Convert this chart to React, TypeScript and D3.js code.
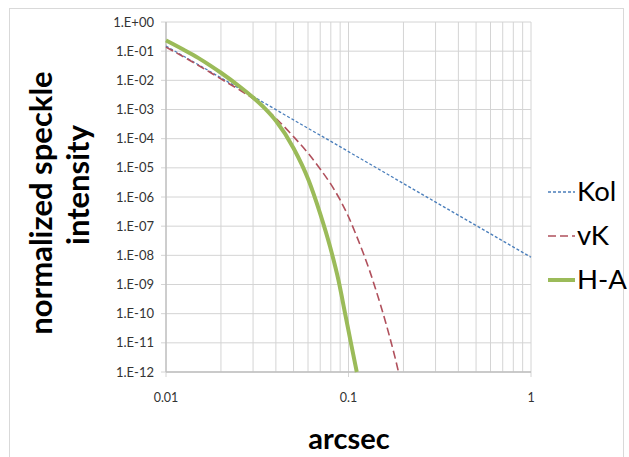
import React from 'react';
import * as d3 from 'd3';

// ---- data ----
const xTickValues = [0.01, 0.1, 1];
const xTickLabels = ['0.01', '0.1', '1'];
const yTickValues = [1, 1e-1, 1e-2, 1e-3, 1e-4, 1e-5, 1e-6, 1e-7, 1e-8, 1e-9, 1e-10, 1e-11, 1e-12];
const yTickLabels = ['1.E+00', '1.E-01', '1.E-02', '1.E-03', '1.E-04', '1.E-05', '1.E-06', '1.E-07', '1.E-08', '1.E-09', '1.E-10', '1.E-11', '1.E-12'];
const seriesNames = ['Kol', 'vK', 'H-A'];

const kolX = [0.01, 0.02, 0.03, 0.05, 0.1, 0.2, 0.5, 1];
const kolY = [1.5e-1, 1.22e-2, 2.8e-3, 4.4e-4, 3.6e-5, 2.9e-6, 1.06e-7, 8.6e-9];

const vkX = [0.01, 0.015, 0.02, 0.025, 0.03, 0.035, 0.04, 0.05, 0.06, 0.07, 0.08, 0.09, 0.1, 0.11, 0.12, 0.13, 0.14, 0.15, 0.16, 0.17, 0.18, 0.188];
const vkY = [1.38e-1, 3.3e-2, 1.12e-2, 4.9e-3, 2.35e-3, 1.1e-3, 5.0e-4, 1.17e-4, 3.2e-5, 9.1e-6, 2.75e-6, 7.9e-7, 2.1e-7, 5.1e-8, 1.27e-8, 3.2e-9, 7.8e-10, 1.95e-10, 4.9e-11, 1.23e-11, 3.1e-12, 1.0e-12];

const haX = [0.01, 0.0125, 0.015, 0.0175, 0.02, 0.025, 0.03, 0.035, 0.04, 0.05, 0.0603, 0.0698, 0.0792, 0.088, 0.0957, 0.104, 0.111];
const haY = [2.34e-1, 1.12e-1, 5.9e-2, 3.2e-2, 1.82e-2, 6.5e-3, 2.57e-3, 1.05e-3, 4.1e-4, 4.7e-5, 3.9e-6, 2.8e-7, 2.0e-8, 1.45e-9, 1.05e-10, 7.6e-12, 1.0e-12];

const W = 629;
const H = 457;

export default function App() {
  const x = d3.scaleLog().domain([0.01, 1]).range([166, 531]);
  const y = d3.scaleLog().domain([1e-12, 1]).range([372, 22]);

  const minorX: number[] = [];
  [0.01, 0.1].forEach((d) => {
    for (let k = 2; k <= 9; k++) minorX.push(d * k);
  });

  const line = d3
    .line<[number, number]>()
    .x((d) => x(d[0]))
    .y((d) => y(d[1]))
    .curve(d3.curveMonotoneX);

  const zip = (a: number[], b: number[]) => a.map((v, i) => [v, b[i]] as [number, number]);

  const series = [
    { name: seriesNames[0], pts: zip(kolX, kolY), color: '#4a7ebb', width: 1.3, dash: '3,2' },
    { name: seriesNames[1], pts: zip(vkX, vkY), color: '#b0505c', width: 1.6, dash: '8,4' },
    { name: seriesNames[2], pts: zip(haX, haY), color: '#9bbb59', width: 4, dash: null as string | null },
  ];

  const grid = '#d4d4d4';
  const legendBase = [201, 245, 289];

  return (
    <svg
      width={W}
      height={H}
      style={{ position: 'absolute', left: 0, top: 0, background: '#fff' }}
      fontFamily="Lato, 'Open Sans', sans-serif"
    >
      <rect x={9.5} y={8.5} width={614} height={470} fill="#fff" stroke="#d9d9d9" />

      {/* minor vertical gridlines */}
      {minorX.map((v, i) => (
        <line key={'mx' + i} x1={x(v)} x2={x(v)} y1={y(1)} y2={y(1e-12)} stroke={grid} strokeWidth={1} />
      ))}
      {/* major vertical gridlines */}
      {xTickValues.map((v, i) => (
        <line key={'vx' + i} x1={x(v)} x2={x(v)} y1={y(1)} y2={y(1e-12) + 5} stroke={grid} strokeWidth={1} />
      ))}
      {/* horizontal gridlines */}
      {yTickValues.map((v, i) => (
        <line key={'hy' + i} x1={x(0.01) - 5} x2={x(1)} y1={y(v)} y2={y(v)} stroke={grid} strokeWidth={1} />
      ))}
      {/* axes */}
      <line x1={x(0.01)} x2={x(0.01)} y1={y(1)} y2={y(1e-12)} stroke="#bfbfbf" strokeWidth={1.3} />
      <line x1={x(0.01)} x2={x(1)} y1={y(1e-12)} y2={y(1e-12)} stroke="#bfbfbf" strokeWidth={1.5} />

      {/* tick labels */}
      {yTickValues.map((v, i) => (
        <text key={'yl' + i} x={154} y={y(v) + 4.5} textAnchor="end" fontSize={13} fill="#333">
          {yTickLabels[i]}
        </text>
      ))}
      {xTickValues.map((v, i) => (
        <text key={'xl' + i} x={x(v)} y={402} textAnchor="middle" fontSize={12.5} fill="#333">
          {xTickLabels[i]}
        </text>
      ))}

      {/* series */}
      <g>
        {series.map((s) => (
          <path
            key={s.name}
            d={line(s.pts) || ''}
            fill="none"
            stroke={s.color}
            strokeWidth={s.width}
            strokeDasharray={s.dash || undefined}
          />
        ))}
      </g>

      {/* axis titles */}
      <text x={349} y={449} textAnchor="middle" fontSize={29} fontWeight="bold" fill="#000">
        arcsec
      </text>
      <g transform="translate(52,203) rotate(-90)">
        <text x={0} y={0} textAnchor="middle" fontSize={31} fontWeight="bold" fill="#000">
          normalized speckle
        </text>
      </g>
      <g transform="translate(89,185) rotate(-90)">
        <text x={0} y={0} textAnchor="middle" fontSize={31} fontWeight="bold" fill="#000">
          intensity
        </text>
      </g>

      {/* legend */}
      {series.map((s, i) => (
        <g key={'lg' + i}>
          <line
            x1={548}
            x2={575}
            y1={legendBase[i] - 9}
            y2={legendBase[i] - 9}
            stroke={s.color}
            strokeWidth={s.width}
            strokeDasharray={s.dash || undefined}
          />
          <text x={577} y={legendBase[i]} fontSize={27.5} fill="#000">
            {s.name}
          </text>
        </g>
      ))}
    </svg>
  );
}
